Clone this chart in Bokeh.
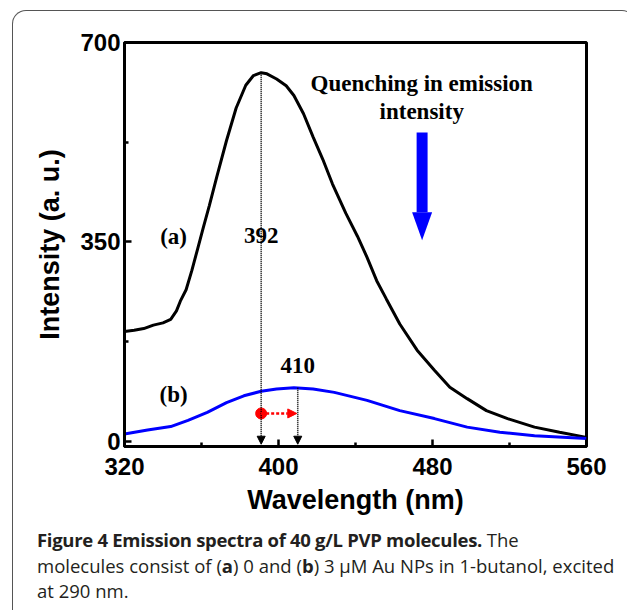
from bokeh.plotting import figure
from bokeh.models import FixedTicker, Label, Arrow, NormalHead, Div
from bokeh.layouts import column
from bokeh.embed import file_html
from bokeh.resources import INLINE

# ---- data ----
wavelength_a = [320, 325, 330, 335, 340, 344, 347, 349, 352, 355, 358, 361, 364, 368,
                373, 378, 383, 387, 391, 394, 399, 404, 408, 413, 418, 423, 428, 435,
                441, 446, 451, 456, 463, 472, 481, 489, 498, 508, 519, 533, 546, 560]
intensity_a = [193, 195, 198, 204, 208, 214, 229, 246, 266, 300, 338, 376, 413, 465,
               528, 585, 625, 642, 647, 645, 636, 624, 607, 575, 534, 495, 452, 400,
               360, 323, 282, 250, 206, 160, 125, 95, 75, 54, 40, 25, 16, 7]

wavelength_b = [320, 332, 344, 353, 363, 373, 382, 391, 399, 408, 418, 429, 446, 463,
                481, 498, 515, 533, 560]
intensity_b = [13, 20, 26, 37, 51, 68, 80, 88, 92, 94, 92, 86, 72, 54,
               40, 25, 16, 10, 5]

x_ticks = [320, 400, 480, 560]
x_minor_ticks = [360, 440, 520]
y_ticks = [0, 350, 700]
y_minor_ticks = [175, 525]

peak_a_nm, peak_a_val, peak_a_text = 391, 647, "392"
peak_b_nm, peak_b_val, peak_b_text = 410, 94, "410"
shift_level = 49

serif = "Liberation Serif"
sans = "Liberation Sans"

p = figure(frame_width=462, frame_height=404, x_range=(320, 560), y_range=(-9, 700),
           output_backend="svg", toolbar_location=None,
           min_border_left=111, min_border_right=39, min_border_top=31,
           min_border_bottom=80)
p.background_fill_color = "white"
p.border_fill_alpha = 0
p.grid.visible = False
p.outline_line_color = "black"
p.outline_line_width = 3

p.xaxis.ticker = FixedTicker(ticks=x_ticks, minor_ticks=x_minor_ticks)
p.yaxis.ticker = FixedTicker(ticks=y_ticks, minor_ticks=y_minor_ticks)
for ax in (p.xaxis, p.yaxis):
    ax.axis_line_width = 3
    ax.axis_line_color = "black"
    ax.major_tick_in = 7
    ax.major_tick_out = 0
    ax.minor_tick_in = 4
    ax.minor_tick_out = 0
    ax.major_tick_line_width = 2.5
    ax.minor_tick_line_width = 2.5
    ax.major_tick_line_color = "black"
    ax.minor_tick_line_color = "black"
    ax.major_label_text_font = sans
    ax.major_label_text_font_style = "bold"
    ax.major_label_text_font_size = "24px"
    ax.major_label_text_color = "black"
    ax.axis_label_text_font = sans
    ax.axis_label_text_font_style = "bold"
    ax.axis_label_text_font_size = "27px"
    ax.axis_label_text_color = "black"
p.xaxis.major_label_standoff = 11
p.yaxis.major_label_standoff = 4
p.xaxis.axis_label = "Wavelength (nm)"
p.yaxis.axis_label = "Intensity (a. u.)"
p.xaxis.axis_label_standoff = 7
p.yaxis.axis_label_standoff = 12

# curves
p.line(wavelength_a, intensity_a, line_color="black", line_width=3)
p.line(wavelength_b, intensity_b, line_color="#0000ff", line_width=3)

# dotted marker lines with arrow heads
for nm, top in ((peak_a_nm, peak_a_val), (peak_b_nm, peak_b_val)):
    p.add_layout(Arrow(x_start=nm, y_start=top, x_end=nm, y_end=-5,
                       line_color="black", line_width=1.6, line_dash="1 1",
                       end=NormalHead(size=8, fill_color="black", line_color="black",
                                      line_width=1)))
# red shift arrow
p.add_layout(Arrow(x_start=peak_a_nm, y_start=shift_level, x_end=peak_b_nm - 0.5,
                   y_end=shift_level, line_color="#ff0000", line_width=2.5, line_dash="3 2",
                   end=NormalHead(size=9, fill_color="#ff0000", line_color="#ff0000",
                                  line_width=1)))
p.scatter([peak_a_nm], [shift_level], size=11, color="#ff0000")

# blue quenching arrow
ax_c, shaft_half, head_half = 474.6, 2.85, 5.2
p.quad(left=[ax_c - shaft_half], right=[ax_c + shaft_half], bottom=[402], top=[542],
       fill_color="#0000ff", line_color=None)
p.patch([ax_c - head_half, ax_c + head_half, ax_c], [402, 402, 353],
        fill_color="#0000ff", line_color=None)

def serif_label(x, y, t):
    p.add_layout(Label(x=x, y=y, text=t, text_font=serif, text_font_style="bold",
                       text_font_size="23px", text_align="center",
                       text_baseline="middle", text_color="black"))

serif_label(345.5, 360, "(a)")
serif_label(peak_a_nm, 361, peak_a_text)
serif_label(345.5, 82, "(b)")
serif_label(peak_b_nm, 133, peak_b_text)
serif_label(474.4, 628, "Quenching in emission")
serif_label(474.4, 579, "intensity")

caption_html = (
    "<b style='letter-spacing:-0.3px'>Figure 4 Emission spectra of 40 g/L PVP molecules.</b> The<br>"
    "molecules consist of (<b>a</b>) 0 and (<b>b</b>) 3 \u03bcM Au NPs in 1-butanol, excited<br>"
    "at 290 nm."
)
caption = Div(text=caption_html, width=612, height=84,
              styles={"font-family": "'Open Sans'", "font-size": "18.5px",
                      "line-height": "25.5px", "color": "#231f20",
                      "padding-top": "0px", "padding-left": "19px",
                      "position": "relative", "top": "-4px",
                      "white-space": "nowrap", "box-sizing": "border-box"})

layout = column(p, caption, spacing=0,
                styles={"margin-left": "12px", "margin-top": "10px",
                        "border": "1px solid #555555", "border-bottom": "none",
                        "border-radius": "14px 14px 0 0"})

open("out.html", "w").write(file_html(layout, INLINE))
